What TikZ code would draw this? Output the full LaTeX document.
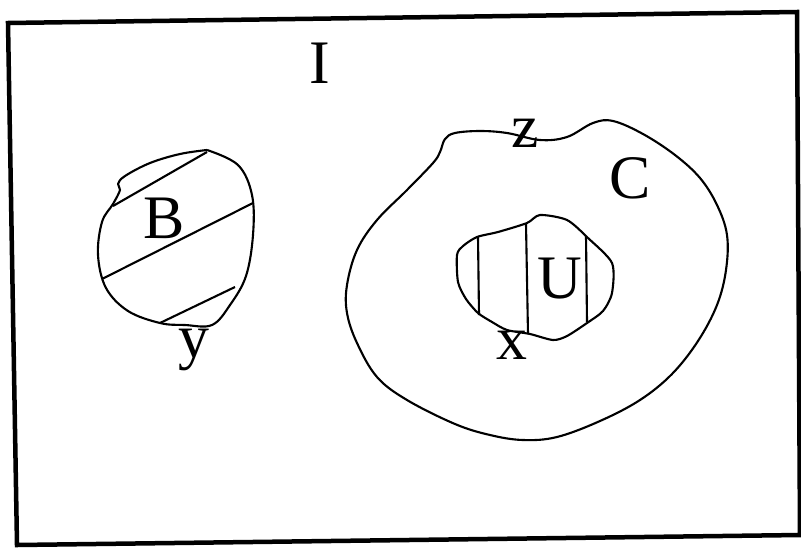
\documentclass[tikz,border=0pt]{standalone}
\usepackage{fontspec}
\setmainfont{Liberation Serif}
\usetikzlibrary{positioning}

\begin{document}
\begin{tikzpicture}[
        x=0.025cm, y=-0.025cm,
        frame/.style={draw=black, line width=3.2pt, line join=miter},
        outline/.style={draw=black, line width=1.5pt, line join=round},
        hatch/.style={draw=black, line width=1.5pt},
        setname/.style={font=\fontsize{44}{48}\selectfont, inner sep=0pt}
    ]
    \useasboundingbox (0,0) rectangle (801,547);
    \draw[frame] (8,23) -- (797,12) -- (800,535) -- (17,545) -- cycle;

    % universe label
    \node[setname] (lblI) at (320,63) {I};

    % set B with slanted hatching
    \draw[outline] plot[smooth, tension=0.6] coordinates {(207,150) (238,165) (252,195) (253,235) (246,276) (230,305) (212,325) (185,325) (160,323) (128,311) (106,288) (98,255) (102,222) (113,204) (120,190) (118,184) (125,176) (150,163) (180,154) (207,150)};
    \draw[hatch] (113,206) -- (207,152);
    \draw[hatch] (102,279) -- (253,203);
    \draw[hatch] (160,323) -- (235,287);
    \node[setname] (lblB) at (164,218) {B};
    \node[setname] (lbly) at (194,350) {y};

    % set C with the hatched set U inside
    \draw[outline] plot[smooth cycle, tension=0.6] coordinates {(440,152) (445,139) (455,133) (480,131) (507,133) (540,140) (567,137) (593,123) (613,121) (643,134) (675,155) (700,178) (717,205) (727,235) (726,270) (717,305) (698,341) (672,374) (640,400) (600,421) (557,437) (523,440) (490,435) (455,424) (407,400) (377,377) (357,343) (347,313) (347,285) (357,250) (377,220) (407,190) (433,163)};
    \node[setname] (lblz) at (525,133) {z};
    \node[setname] (lblC) at (630,178) {C};

    \draw[outline] plot[smooth cycle, tension=0.45] coordinates {(540,215) (567,220) (588,238) (612,263) (612,293) (603,311) (587,323) (567,336) (553,340) (530,334) (507,330) (492,322) (478,313) (466,299) (458,282) (457,255) (463,246) (477,237) (498,232) (527,223)};
    \draw[hatch] (478,237) -- (479,315);
    \draw[hatch] (526,224) -- (528,334);
    \draw[hatch] (586,236) -- (587,322);
    \node[setname] (lblU) at (560,279) {U};
    \node[setname] (lblx) at (512,345) {x};
\end{tikzpicture}
\end{document}
